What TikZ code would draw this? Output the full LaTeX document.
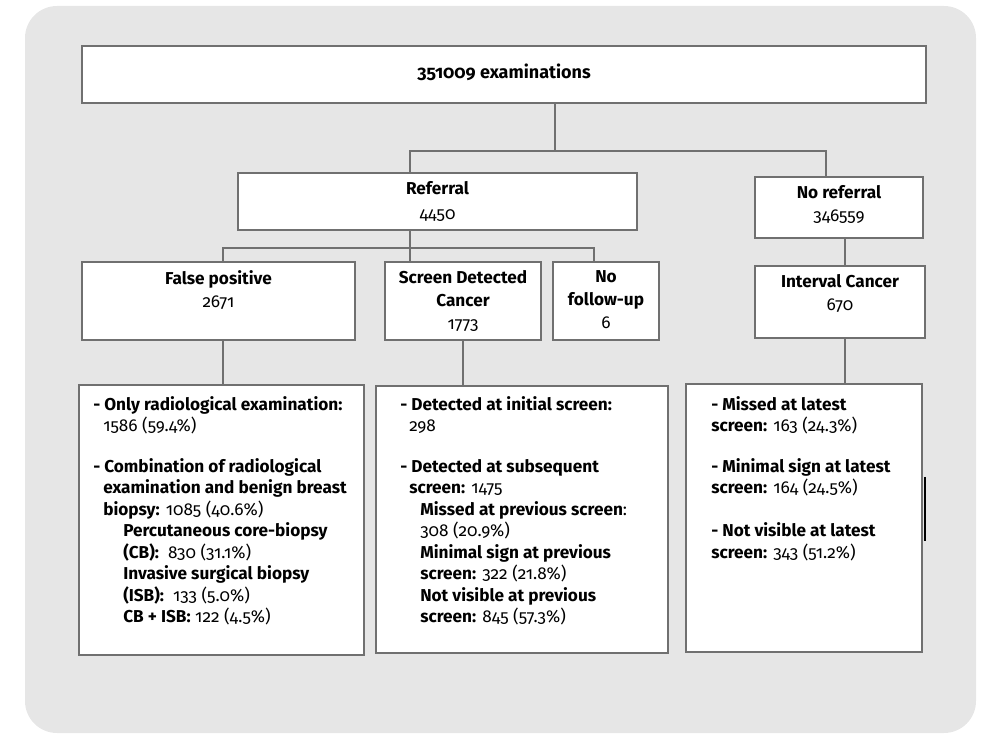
\documentclass[tikz,border=0pt]{standalone}
\usepackage{fontspec}
\setmainfont{Fira Sans}[Numbers=OldStyle]
\usetikzlibrary{fit}
\definecolor{bgc}{RGB}{230,230,230}
\definecolor{edge}{RGB}{112,112,112}
\tikzset{
  boxnode/.style={draw=edge, line width=2pt, fill=white, inner sep=0pt},
  lbl/.style={anchor=north, inner sep=0pt, align=center,
    font=\fontsize{12.9}{17.25}\selectfont},
  link/.style={draw=edge, line width=1.6pt},
  body/.style={anchor=north west, inner sep=0pt, align=left,
    font=\fontsize{12.9}{16.1}\selectfont},
}
\begin{document}
\begin{tikzpicture}[x=0.75pt,y=-0.75pt]
\useasboundingbox (0,0) rectangle (983,734);
\fill[bgc, rounded corners=24pt] (25,6) rectangle (976,733);

% boxes
\node[boxnode, fit={(82,46)(926,103)}] (top) {};
\node[boxnode, fit={(238,173)(637,230)}] (ref) {};
\node[boxnode, fit={(755,177)(923,238)}] (noref) {};
\node[boxnode, fit={(82,262)(355,340)}] (fp) {};
\node[boxnode, fit={(385,262)(541,340)}] (sd) {};
\node[boxnode, fit={(553,262)(659,340)}] (nf) {};
\node[boxnode, fit={(755,266)(925,338)}] (ic) {};
\node[boxnode, fit={(79,385)(364,655)}] (bl) {};
\node[boxnode, fit={(376,386)(668,653)}] (bm) {};
\node[boxnode, fit={(686,384)(922,652)}] (br) {};

% box labels
\node[lbl, font=\fontsize{13.5}{17}\selectfont] (topt) at ([yshift=-14pt]top.north) {\textbf{351009 examinations}};
\node[lbl, font=\fontsize{12.9}{18.75}\selectfont] (reft) at ([yshift=-7.5pt]ref.north) {\textbf{Referral}\\4450};
\node[lbl] (noreft) at ([yshift=-7.5pt]noref.north) {\textbf{No referral}\\346559};
\node[lbl] (fpt) at ([yshift=-7.5pt]fp.north) {\textbf{False positive}\\2671};
\node[lbl] (sdt) at ([yshift=-7.5pt]sd.north) {\textbf{Screen Detected}\\\textbf{Cancer}\\1773};
\node[lbl] (nft) at ([yshift=-7.5pt]nf.north) {\textbf{No}\\\textbf{follow-up}\\6};
\node[lbl] (ict) at ([yshift=-7.5pt]ic.north) {\textbf{Interval Cancer}\\670};

% junction coordinates
\coordinate (j0) at (410,151);
\coordinate (j1) at (555,151);
\coordinate (j1r) at (826,151);
\coordinate (j2) at (410,248);
\coordinate (j2l) at (223,248);
\coordinate (j2r) at (594,248);
\coordinate (c3) at (845,250);
\coordinate (c5) at (463,360);

% connectors
\draw[link] (top.south -| j1) -- (j1);
\draw[link] (j0 |- ref.north) -- (j0) -- (j1r) -- (j1r |- noref.north);
\draw[link] (ref.south -| j2) -- (j2 |- sd.north);
\draw[link] (j2l |- fp.north) -- (j2l) -- (j2r) -- (j2r |- nf.north);
\draw[link] (noref.south -| c3) -- (c3 |- ic.north);
\draw[link] (fp.south -| j2l) -- (j2l |- bl.north);
\draw[link] (sd.south -| c5) -- (c5 |- bm.north);
\draw[link] (ic.south -| c3) -- (c3 |- br.north);

% body texts
\node[body] (blt) at (93,396) {%
\textbf{- Only radiological examination:}\\
\hspace*{7.5pt}1586 (59.4\%)\\[14.5pt]
\textbf{- Combination of radiological}\\
\hspace*{7.5pt}\textbf{examination and benign breast}\\
\hspace*{7.5pt}\textbf{biopsy:} 1085 (40.6\%)\\
\hspace*{22.5pt}\textbf{Percutaneous core-biopsy}\\
\hspace*{22.5pt}\textbf{(CB):}\ \ 830 (31.1\%)\\
\hspace*{22.5pt}\textbf{Invasive surgical biopsy}\\
\hspace*{22.5pt}\textbf{(ISB):}\ \ 133 (5.0\%)\\
\hspace*{22.5pt}\textbf{CB + ISB:} 122 (4.5\%)};

\node[body] (bmt) at (400,396) {%
\textbf{- Detected at initial screen:}\\
\hspace*{6.75pt}298\\[14.5pt]
\textbf{- Detected at subsequent}\\
\hspace*{6.75pt}\textbf{screen:} 1475\\
\hspace*{15pt}\textbf{Missed at previous screen}:\\
\hspace*{15pt}308 (20.9\%)\\
\hspace*{15pt}\textbf{Minimal sign at previous}\\
\hspace*{15pt}\textbf{screen:} 322 (21.8\%)\\
\hspace*{15pt}\textbf{Not visible at previous}\\
\hspace*{15pt}\textbf{screen:} 845 (57.3\%)};

\node[body] (brt) at (711,396) {%
\textbf{- Missed at latest}\\
\textbf{screen:} 163 (24.3\%)\\[14.5pt]
\textbf{- Minimal sign at latest}\\
\textbf{screen:} 164 (24.5\%)\\[16pt]
\textbf{- Not visible at latest}\\
\textbf{screen:} 343 (51.2\%)};

% stray mark beside the right box
\draw[black, line width=0.8pt] (925,477) -- (925,541);
\end{tikzpicture}
\end{document}
